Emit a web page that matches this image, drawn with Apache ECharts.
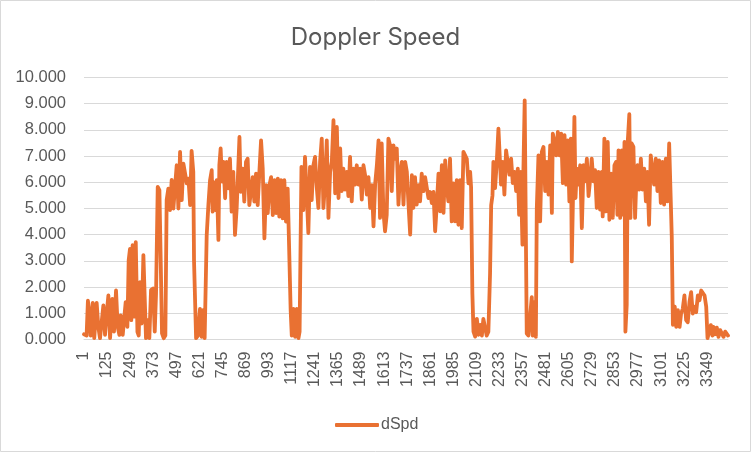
<!DOCTYPE html>
<html>
<head>
<meta charset="utf-8">
<script src="https://cdn.jsdelivr.net/npm/echarts@6/dist/echarts.min.js"></script>
<style>
html,body{margin:0;padding:0;background:#fff;}
#chart{width:751px;height:452px;}
</style>
</head>
<body>
<div id="chart"></div>
<script>
// sample count on the category axis (labels 1 .. 3460)
const sampleCount = 3460;
const categories = [];
for (let i = 1; i <= sampleCount; i++) categories.push(String(i));

// sample positions (0-based category index)
const sampleNo = [
0,14,21,29,36,47,55,68,77,86,93,104,113,122,131,140,152,161,172,181,190,197,208,217,224,233,240,247,254,261,269,278,287,294,301,310,319,328,333,342,351,360,371,380,387,396,405,412,419,428,437,444,453,462,471,480,489,498,507,516,525,534,543,552,561,570,578,587,591,
602,612,623,632,639,648,659,668,677,686,691,698,706,713,722,727,734,741,749,758,766,775,784,793,802,811,820,835,842,852,861,870,879,888,897,906,915,924,933,942,951,960,969,978,987,996,1005,1014,1023,1032,1041,1049,1058,1067,1076,1085,1094,1103,1110,1116,1125,1134,1143,1152,1158,
1168,1178,1187,1196,1205,1214,1223,1232,1241,1250,1259,1268,1277,1286,1295,1304,1313,1322,1331,1340,1349,1358,1367,1376,1384,1393,1402,1411,1420,1429,1438,1447,1456,1465,1474,1483,1492,1501,1510,1519,1528,1537,1546,1555,1564,1573,1582,1590,1599,1608,1617,1626,1635,1644,1653,1662,1671,1680,1689,1698,1707,1716,1725,1734,1743,1752,1761,
1769,1778,1787,1796,1805,1814,1823,1832,1841,1850,1859,1868,1877,1886,1895,1904,1913,1922,1931,1940,1949,1957,1966,1975,1984,1993,2002,2011,2020,2029,2038,2047,2056,2065,2074,2079,2086,2092,2101,2110,2119,2128,2137,2145,2154,2163,2172,2181,2187,2194,2199,2208,2217,2226,2235,2240,2249,2258,2267,2276,2285,2294,2303,2312,2321,2330,2337,2346,2355,2360,2367,
2378,2387,2396,2405,2410,2418,2427,2432,2441,2450,2459,2468,2477,2486,2495,2504,2513,2518,2527,2536,2545,2554,2563,2572,2581,2590,2598,2607,2615,2620,2629,2634,2640,2647,2656,2665,2674,2683,2692,2701,2710,2719,2727,2736,2745,2754,2763,2772,2781,2786,2795,2804,2813,2822,2831,2840,2849,2858,2865,2871,2880,2889,2897,2903,2908,2915,2921,2929,2935,
2942,2951,2960,2966,2973,2982,2991,3000,3009,3018,3026,3035,3044,3053,3062,3071,3080,3089,3098,3107,3116,3125,3134,3143,3152,3157,3163,3168,3173,3181,3190,3199,3207,3216,3225,3234,3243,3252,3261,3270,3279,3288,3297,3306,3315,3324,3333,3342,3349,3358,3367,3375,3381,3390,3399,3408,3417,3426,3435,3444,3453,3459
];

// Doppler speed values
const dSpd = [
0.20,0.15,1.48,1.00,0.15,1.40,0.05,1.40,0.48,0.05,0.10,1.30,0.18,1.00,1.68,0.05,1.55,0.30,1.87,0.48,0.18,0.92,0.18,0.15,1.43,0.48,3.03,3.46,0.74,3.60,0.87,3.72,0.29,0.15,2.19,0.61,3.22,3.27,0.05,0.74,0.05,1.89,1.95,0.30,1.76,5.82,5.70,3.03,0.23,0.05,0.15,5.32,5.76,4.94,6.09,5.00,5.07,6.65,5.00,7.16,5.32,6.71,6.65,5.96,6.14,5.13,7.20,6.40,3.00,
0.05,0.15,1.17,0.10,1.12,0.05,3.97,5.12,6.08,6.46,4.88,6.00,4.94,6.08,3.80,6.65,7.29,6.03,6.78,5.39,6.78,5.77,6.90,4.88,6.40,3.99,5.00,7.73,5.64,6.52,5.26,6.78,6.90,5.13,5.13,6.20,5.26,6.33,5.13,6.40,7.60,6.52,3.86,5.89,4.82,5.89,6.20,4.75,6.08,4.82,6.14,4.69,6.08,4.62,6.08,4.50,5.76,5.69,1.12,0.15,1.17,0.10,1.17,0.05,0.30,
6.59,4.94,6.97,5.58,4.06,6.59,5.32,6.65,6.97,5.83,5.02,6.78,7.67,5.02,6.01,7.60,4.64,6.40,6.78,8.37,5.58,8.11,5.40,7.29,5.66,6.52,5.72,6.40,5.47,6.97,5.27,6.52,5.91,6.65,5.91,6.52,5.34,6.65,6.27,5.53,6.20,5.02,5.89,4.32,5.95,6.65,7.60,4.64,7.48,4.89,4.13,4.76,7.67,7.41,5.66,7.41,6.90,7.29,5.15,6.40,6.78,5.15,6.78,6.40,5.15,4.00,6.27,
5.02,6.20,5.15,5.89,5.27,6.33,5.66,6.20,6.14,5.40,5.63,5.21,5.63,4.13,5.15,6.33,4.89,6.65,4.83,6.84,5.83,5.27,6.90,4.51,5.96,4.51,6.08,4.38,6.08,4.25,7.16,7.22,6.90,5.96,6.40,5.83,1.76,0.30,0.11,0.79,0.18,0.56,0.15,0.79,0.79,0.15,0.30,2.52,5.12,5.50,6.78,5.78,6.78,8.05,8.05,5.91,6.78,5.53,7.22,7.22,6.29,6.90,5.97,6.40,5.66,6.52,4.76,6.40,3.62,6.40,9.13,
0.23,0.15,0.15,1.62,0.15,1.43,0.10,5.00,7.03,4.51,7.16,7.35,5.66,6.78,5.53,7.41,4.83,7.86,7.54,7.03,7.92,7.03,7.86,5.97,7.80,5.91,7.60,5.27,7.67,2.98,6.40,8.50,5.40,6.52,5.91,6.65,4.25,6.65,6.04,6.90,5.47,6.14,6.90,6.04,6.46,5.02,6.40,4.96,6.40,4.70,7.67,4.89,7.54,4.57,6.33,4.64,6.65,6.78,4.76,7.22,4.64,7.22,4.76,7.54,0.30,1.32,7.60,8.60,4.64,
7.48,7.35,4.64,5.96,6.65,5.72,6.90,5.72,6.52,5.27,6.40,4.38,7.03,7.03,5.91,6.90,5.66,6.84,5.21,6.78,5.15,6.90,5.27,7.48,7.41,3.92,0.56,0.56,1.25,0.48,1.12,0.48,0.99,1.17,1.68,0.74,0.66,1.43,1.81,0.99,1.25,1.04,1.68,1.50,1.87,1.81,1.68,1.25,0.05,0.30,0.55,0.15,0.48,0.20,0.45,0.10,0.36,0.40,0.10,0.30,0.23,0.15
];

const seriesData = sampleNo.map((n, i) => [n, dSpd[i]]);

const chart = echarts.init(document.getElementById('chart'), null, {renderer: 'canvas'});
const axisFont = 'Liberation Sans, Arial, sans-serif';
chart.setOption({
  animation: false,
  backgroundColor: '#ffffff',
  title: {
    text: 'Doppler Speed',
    left: 'center',
    top: 21,
    textStyle: {fontFamily: 'Inter, Liberation Sans, sans-serif', fontSize: 24, fontWeight: 'normal', color: '#595959'}
  },
  legend: {
    data: ['dSpd'],
    left: 330,
    top: 412,
    icon: 'roundRect',
    itemWidth: 44,
    itemHeight: 4,
    itemGap: 10,
    textStyle: {fontFamily: axisFont, fontSize: 16, color: '#595959', padding: [0, 0, 0, -3]}
  },
  grid: {left: 84, right: 23, top: 77.5, bottom: 112.5, containLabel: false},
  xAxis: {
    type: 'category',
    data: categories,
    boundaryGap: false,
    axisLine: {show: true, lineStyle: {color: '#D9D9D9', width: 1}},
    axisTick: {show: false},
    axisLabel: {
      interval: 123,
      rotate: 90,
      margin: 12,
      fontFamily: axisFont,
      fontSize: 16,
      color: '#595959'
    },
    splitLine: {show: false}
  },
  yAxis: {
    type: 'value',
    min: 0,
    max: 10,
    interval: 1,
    axisLine: {show: false},
    axisTick: {show: false},
    axisLabel: {
      margin: 18,
      fontFamily: axisFont,
      fontSize: 16.5,
      color: '#595959',
      formatter: v => v.toFixed(3)
    },
    splitLine: {lineStyle: {color: '#D9D9D9', width: 1}}
  },
  series: [{
    name: 'dSpd',
    type: 'line',
    data: seriesData,
    showSymbol: false,
    symbol: 'none',
    sampling: null,
    lineStyle: {color: '#E97132', width: 3.8, join: 'round', cap: 'round'},
    itemStyle: {color: '#E97132'}
  }],
  graphic: [{
    type: 'rect',
    shape: {x: 0.5, y: 0.5, width: 750, height: 451},
    style: {fill: 'none', stroke: '#D9D9D9', lineWidth: 1},
    silent: true,
    z: -1
  }]
});
</script>
</body>
</html>
